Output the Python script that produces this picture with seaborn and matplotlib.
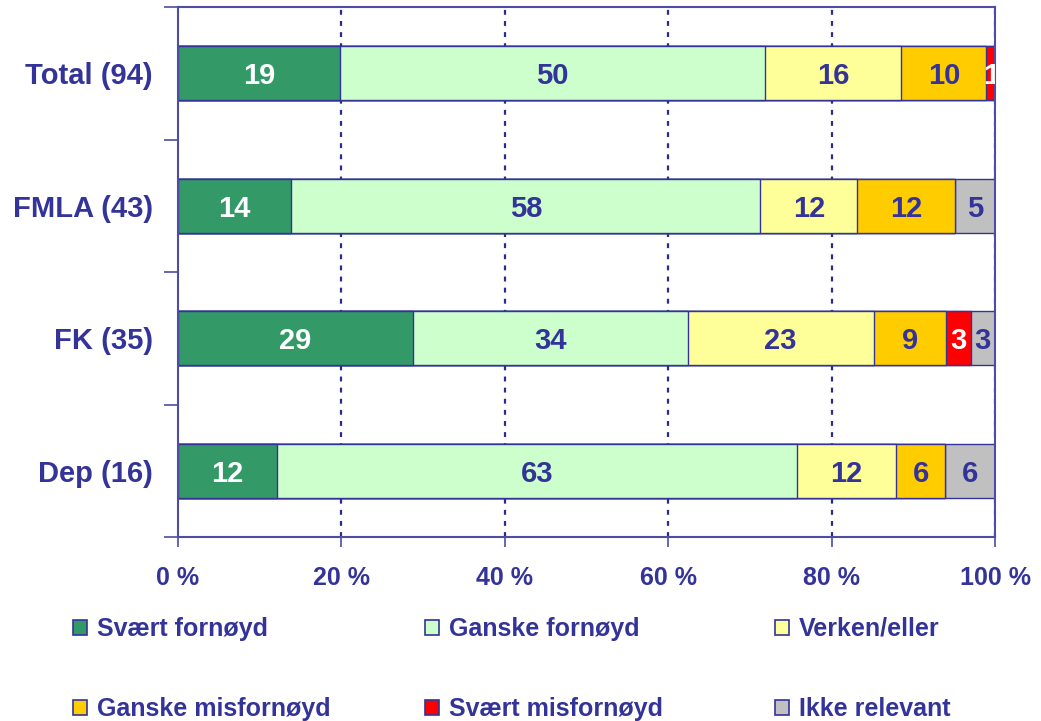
import numpy as np
import pandas as pd
import matplotlib
matplotlib.use("Agg")
import matplotlib.pyplot as plt
from matplotlib.patches import Patch
from matplotlib.ticker import FixedLocator
import seaborn as sns

groups = ["Total (94)", "FMLA (43)", "FK (35)", "Dep (16)"]
series = ["Svært fornøyd", "Ganske fornøyd", "Verken/eller",
          "Ganske misfornøyd", "Svært misfornøyd", "Ikke relevant"]
svaert_fornoyd = [19, 14, 29, 12]
ganske_fornoyd = [50, 58, 34, 63]
verken_eller = [16, 12, 23, 12]
ganske_misfornoyd = [10, 12, 9, 6]
svaert_misfornoyd = [1, 0, 3, 0]
ikke_relevant = [0, 5, 3, 6]
x_ticks = [0, 20, 40, 60, 80, 100]
x_tick_labels = ["0 %", "20 %", "40 %", "60 %", "80 %", "100 %"]

colors = ["#339966", "#CCFFCC", "#FFFF99", "#FFCC00", "#FF0000", "#C0C0C0"]
label_colors = ["white", "#333399", "#333399", "#333399", "white", "#333399"]
NAVY = "#333399"
SPINE = "#4D4DA6"

sns.set_theme(style="white")
plt.rcParams["font.family"] = ["Liberation Sans", "DejaVu Sans"]
plt.rcParams["font.weight"] = "bold"

vals = np.array([svaert_fornoyd, ganske_fornoyd, verken_eller,
                 ganske_misfornoyd, svaert_misfornoyd, ikke_relevant], dtype=float)
pct = vals / vals.sum(axis=0) * 100
cum = np.cumsum(pct, axis=0)

fig = plt.figure(figsize=(10.41, 7.21), dpi=100)
ax = fig.add_axes([178 / 1041, 1 - 537 / 721, (995 - 178) / 1041, (537 - 7) / 721])

# gridlines first (behind bars)
for xv in x_ticks[1:]:
    ax.axvline(xv, color="#2B2B8F", linestyle=(0, (2.2, 2.8)), linewidth=1.6, zorder=0)

for i in range(len(series) - 1, -1, -1):
    df = pd.DataFrame({"group": groups, "value": cum[i]})
    sns.barplot(data=df, y="group", x="value", order=groups, orient="h",
                color=colors[i], saturation=1, width=0.41,
                edgecolor=NAVY, linewidth=1.0, ax=ax, zorder=2)

for j, g in enumerate(groups):
    for i in range(len(series)):
        if vals[i, j] <= 0:
            continue
        left = cum[i, j] - pct[i, j]
        ax.text(left + pct[i, j] / 2, j, f"{int(vals[i, j])}", ha="center",
                va="center_baseline", color=label_colors[i], fontsize=21,
                fontweight="bold", zorder=5, clip_on=True)

ax.set_xlim(0, 100)
ax.set_ylim(3.5, -0.5)
ax.set_xlabel("")
ax.set_ylabel("")
ax.set_xticks(x_ticks)
ax.set_xticklabels(x_tick_labels, fontsize=18, fontweight="bold", color=NAVY)
ax.set_yticks(range(len(groups)))
ax.set_yticklabels(groups, fontsize=21, fontweight="bold", color=NAVY)
ax.tick_params(axis="y", which="major", length=0, pad=18)
ax.yaxis.set_minor_locator(FixedLocator([-0.5, 0.5, 1.5, 2.5, 3.5]))
ax.tick_params(axis="y", which="minor", length=10, width=1.2, color=SPINE, direction="out", left=True)
ax.tick_params(axis="x", which="major", length=7, width=1.2, color=SPINE, direction="out",
               bottom=True, pad=14)
for s in ax.spines.values():
    s.set_visible(True)
    s.set_color(SPINE)
    s.set_linewidth(1.5)
ax.grid(False)
ax.set_axisbelow(False)

handles = [Patch(facecolor=c, edgecolor=NAVY, linewidth=1.2) for c in colors]
col_x = [73, 425, 775]
for c, x0 in enumerate(col_x):
    idx = [c, c + 3]
    leg = fig.legend([handles[k] for k in idx], [series[k] for k in idx],
                     ncol=1, loc="upper left", bbox_to_anchor=(x0 / 1041, 1 - 617 / 721),
                     frameon=False, fontsize=18, handlelength=0.55, handleheight=0.55,
                     handletextpad=0.4, labelspacing=2.25,
                     borderpad=0, borderaxespad=0)
    for t in leg.get_texts():
        t.set_color(NAVY)
        t.set_fontweight("bold")

fig.savefig("out.png", dpi=100)
